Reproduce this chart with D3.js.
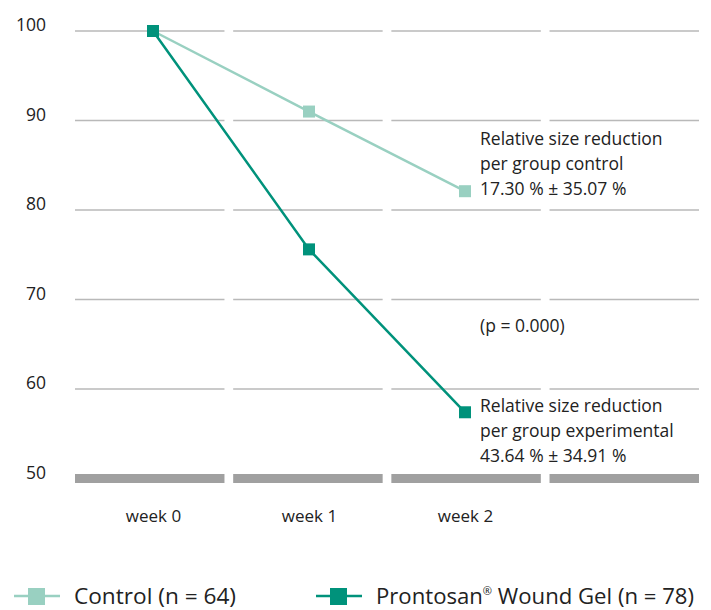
<!DOCTYPE html>
<html><head><meta charset="utf-8">
<script src="https://cdn.jsdelivr.net/npm/d3@7"></script>
<style>body{margin:0;background:#fff}svg{display:block}</style>
</head><body>
<svg id="c" width="711" height="610"></svg>
<script>
const categories = ["week 0", "week 1", "week 2", ""];
const weeks = ["week 0", "week 1", "week 2"];
const controlValues = [100, 91, 82.1];
const experimentalValues = [100, 75.6, 57.4];
const yTicks = [50, 60, 70, 80, 90, 100];
const seriesNames = ["Control (n = 64)", "Prontosan", "®", " Wound Gel (n = 78)"];
const controlNote = ["Relative size reduction", "per group control", "17.30 % ± 35.07 %"];
const pNote = ["(p = 0.000)"];
const expNote = ["Relative size reduction", "per group experimental", "43.64 % ± 34.91 %"];

const cLight = "#99d0c1", cDark = "#00927b";
const font = "'Open Sans', sans-serif";
const svg = d3.select("#c");
const x = d3.scaleBand().domain(categories).range([75, 699]).paddingInner(0.055).paddingOuter(0);
const xp = d3.scalePoint().domain(weeks).range([153, 465]);
const y = d3.scaleLinear().domain([50, 100]).range([478.5, 31]);

// gridline segments
yTicks.forEach(t => {
  categories.forEach(c => {
    svg.append("line")
      .attr("x1", x(c)).attr("x2", x(c) + x.bandwidth())
      .attr("y1", y(t)).attr("y2", y(t))
      .attr("stroke", t === 50 ? "#a0a0a0" : "#b9b9b9")
      .attr("stroke-width", t === 50 ? 9 : 1.5);
  });
});

// y axis labels
const yAxis = d3.axisLeft(y).tickValues(yTicks).tickSize(0).tickPadding(0);
const ga = svg.append("g").attr("transform", "translate(46,-6)").call(yAxis);
ga.select(".domain").remove();
ga.selectAll("text").attr("font-family", font).attr("font-size", 17.5).attr("fill", "#222");

// x labels
const xAxis = d3.axisBottom(xp).tickSize(0).tickPadding(0);
const gx = svg.append("g").attr("transform", "translate(0,510)").call(xAxis);
gx.select(".domain").remove();
gx.selectAll("text").attr("font-family", font).attr("font-size", 17).attr("fill", "#222");

const line = d3.line().x((d, i) => xp(weeks[i])).y(d => y(d));

function series(vals, color) {
  svg.append("path").datum(vals).attr("d", line).attr("fill", "none")
    .attr("stroke", color).attr("stroke-width", 2.5);
  svg.selectAll(null).data(vals).enter().append("rect")
    .attr("x", (d, i) => xp(weeks[i]) - 6).attr("y", d => y(d) - 6)
    .attr("width", 12).attr("height", 12).attr("fill", color);
}
series(controlValues, cLight);
series(experimentalValues, cDark);

function note(lines, y0) {
  const t = svg.append("text").attr("font-family", font).attr("font-size", 17.5).attr("fill", "#222");
  lines.forEach((l, i) => t.append("tspan").attr("x", 480).attr("y", y0 + i * 25).text(l));
}
note(controlNote, 145);
note(pNote, 332);
note(expNote, 412);

// legend
const lg = [
  {parts: [seriesNames[0]], color: cLight, x: 14, len: 162},
  {parts: [seriesNames[1], seriesNames[2], seriesNames[3]], color: cDark, x: 316, len: 318}
];
lg.forEach(d => {
  svg.append("line").attr("x1", d.x).attr("x2", d.x + 46).attr("y1", 596).attr("y2", 596)
    .attr("stroke", d.color).attr("stroke-width", 2.5);
  svg.append("rect").attr("x", d.x + 14).attr("y", 588).attr("width", 17).attr("height", 17).attr("fill", d.color);
  const t = svg.append("text").attr("x", d.x + 60).attr("y", 604).attr("font-family", font)
    .attr("font-size", 22).attr("fill", "#222")
    .attr("textLength", d.len).attr("lengthAdjust", "spacingAndGlyphs");
  d.parts.forEach((p, i) => {
    const s = t.append("tspan").text(p);
    if (i === 1) s.attr("font-size", 11).attr("dy", -9);
    if (i === 2) s.attr("dy", 9);
  });
});
</script>
</body></html>
